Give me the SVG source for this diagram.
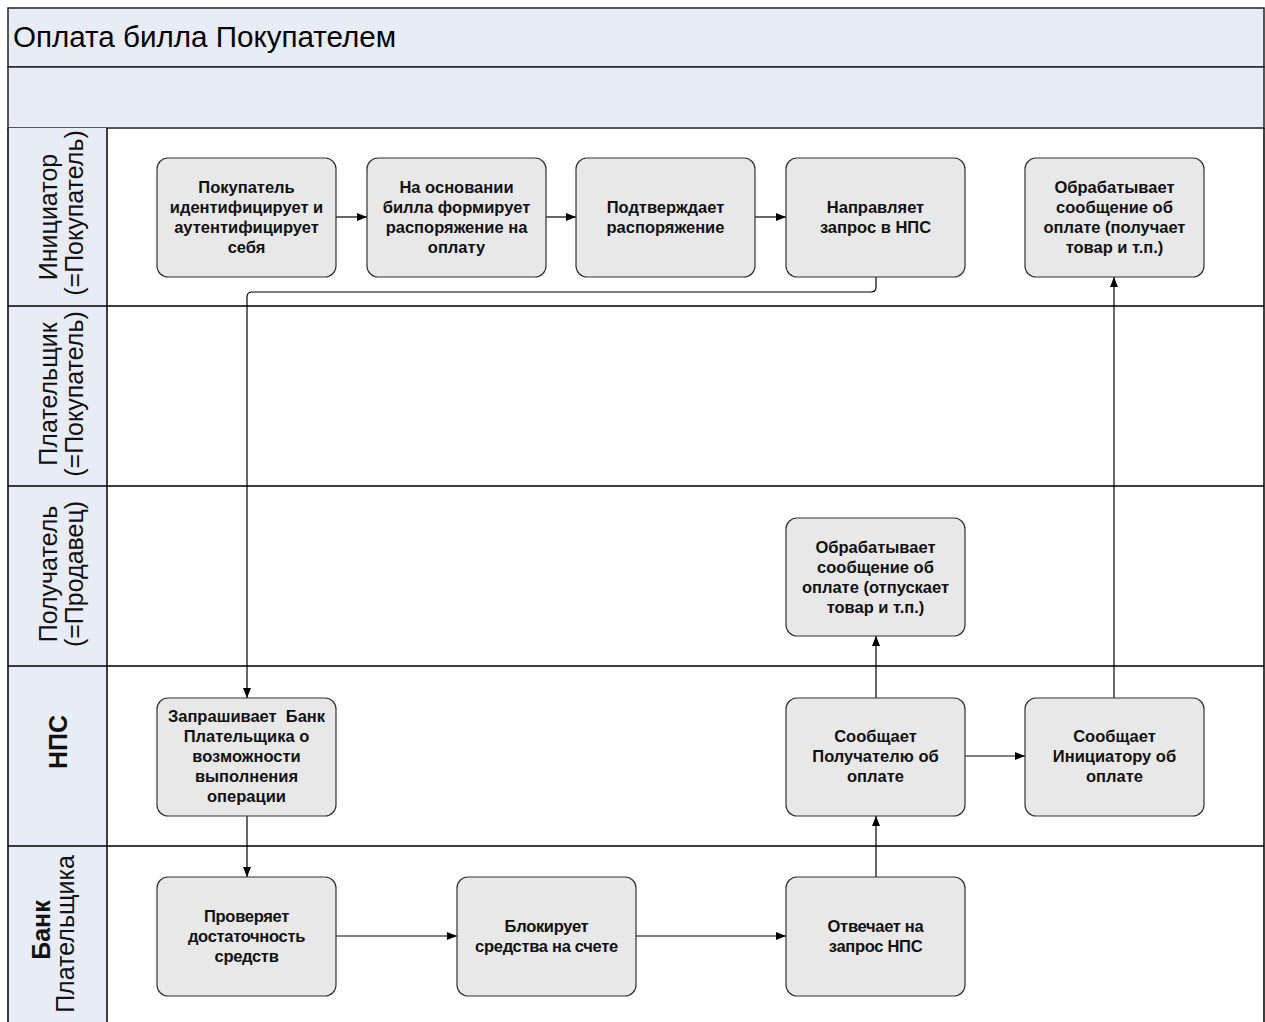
<svg xmlns="http://www.w3.org/2000/svg" width="1265" height="1022" viewBox="0 0 1265 1022">
<defs>
<marker id="ah" viewBox="0 0 10 8" refX="10" refY="4" markerWidth="10" markerHeight="8" markerUnits="userSpaceOnUse" orient="auto">
<path d="M0,0 L10,4 L0,8 Z" fill="#000"/>
</marker>
<style>
.hdr{fill:#e8ecf7;stroke:#222;stroke-width:1.5}
.lane{fill:none;stroke:#000;stroke-width:1.5}
.box{fill:#e8e8e8;stroke:#333;stroke-width:1.2}
.bt{font-family:"Liberation Sans",Arial,sans-serif;font-size:16.5px;font-weight:bold;fill:#111;text-anchor:middle}
.bn{font-family:"Liberation Sans",Arial,sans-serif;font-size:16.5px;font-weight:bold;fill:#111;text-anchor:middle;letter-spacing:-0.3px}
.lt{font-family:"Liberation Sans",Arial,sans-serif;font-size:25px;fill:#111;text-anchor:middle}
.conn{fill:none;stroke:#000;stroke-width:1.2;marker-end:url(#ah)}
</style>
</defs>
<rect width="1265" height="1022" fill="#fff"/>
<g id="pool">
<rect class="hdr" x="8" y="8" width="1256" height="59"/>
<rect class="hdr" x="8" y="67" width="1256" height="61"/>
<text x="13" y="47" font-family="'Liberation Sans',Arial,sans-serif" font-size="29.6" fill="#000">Оплата билла Покупателем</text>
<rect x="8" y="128" width="99" height="900" fill="#e8ecf7" stroke="none"/>
<path class="lane" d="M8,128 V1022 M107,128 V1022 M1264,128 V1022 M8,306 H1264 M8,486 H1264 M8,666 H1264 M8,846 H1264"/>
</g>
<g id="lane-labels">
<g id="lane-initiator"><text class="lt" transform="translate(57,217) rotate(-90)">Инициатор</text><text class="lt" font-size="24" transform="translate(83,213) rotate(-90)">(=Покупатель)</text></g>
<g id="lane-payer"><text class="lt" transform="translate(57,394) rotate(-90)">Плательщик</text><text class="lt" font-size="24" transform="translate(83,394) rotate(-90)">(=Покупатель)</text></g>
<g id="lane-receiver"><text class="lt" transform="translate(57,574) rotate(-90)">Получатель</text><text class="lt" transform="translate(83,574) rotate(-90)">(=Продавец)</text></g>
<g id="lane-nps"><text class="lt" font-weight="bold" transform="translate(67,742) rotate(-90)">НПС</text></g>
<g id="lane-bank"><text class="lt" font-weight="bold" transform="translate(50,930) rotate(-90)">Банк</text><text class="lt" transform="translate(74,934) rotate(-90)">Плательщика</text></g>
</g>
<g id="connectors">
<path class="conn" d="M336,217 H367"/>
<path class="conn" d="M546,217 H576"/>
<path class="conn" d="M755,217 H786"/>
<path class="conn" d="M876,277 V287 Q876,292 871,292 H252 Q247,292 247,297 V698"/>
<path class="conn" d="M247,816 V877"/>
<path class="conn" d="M336,936 H457"/>
<path class="conn" d="M636,936 H786"/>
<path class="conn" d="M876,877 V816"/>
<path class="conn" d="M876,698 V636"/>
<path class="conn" d="M965,756 H1025"/>
<path class="conn" d="M1114,698 V277"/>
</g>
<g id="n1"><rect class="box" x="157" y="158" width="179" height="119" rx="11"/>
<text class="bt"><tspan x="246.5" y="193">Покупатель</tspan><tspan x="246.5" y="213">идентифицирует и</tspan><tspan x="246.5" y="233">аутентифицирует</tspan><tspan x="246.5" y="253">себя</tspan></text></g>
<g id="n2"><rect class="box" x="367" y="158" width="179" height="119" rx="11"/>
<text class="bt"><tspan x="456.5" y="193">На основании</tspan><tspan x="456.5" y="213">билла формирует</tspan><tspan x="456.5" y="233">распоряжение на</tspan><tspan x="456.5" y="253">оплату</tspan></text></g>
<g id="n3"><rect class="box" x="576" y="158" width="179" height="119" rx="11"/>
<text class="bt"><tspan x="665.5" y="213">Подтверждает</tspan><tspan x="665.5" y="233">распоряжение</tspan></text></g>
<g id="n4"><rect class="box" x="786" y="158" width="179" height="119" rx="11"/>
<text class="bt"><tspan x="875.5" y="213">Направляет</tspan><tspan x="875.5" y="233">запрос в НПС</tspan></text></g>
<g id="n5"><rect class="box" x="1025" y="158" width="179" height="119" rx="11"/>
<text class="bt"><tspan x="1114.5" y="193">Обрабатывает</tspan><tspan x="1114.5" y="213">сообщение об</tspan><tspan x="1114.5" y="233">оплате (получает</tspan><tspan x="1114.5" y="253">товар и т.п.)</tspan></text></g>
<g id="n6"><rect class="box" x="786" y="518" width="179" height="118" rx="11"/>
<text class="bt"><tspan x="875.5" y="553">Обрабатывает</tspan><tspan x="875.5" y="573">сообщение об</tspan><tspan x="875.5" y="593">оплате (отпускает</tspan><tspan x="875.5" y="613">товар и т.п.)</tspan></text></g>
<g id="n7"><rect class="box" x="157" y="698" width="179" height="118" rx="11"/>
<text class="bt"><tspan x="246.5" y="722">Запрашивает&#160; Банк</tspan><tspan x="246.5" y="742">Плательщика о</tspan><tspan x="246.5" y="762">возможности</tspan><tspan x="246.5" y="782">выполнения</tspan><tspan x="246.5" y="802">операции</tspan></text></g>
<g id="n8"><rect class="box" x="786" y="698" width="179" height="118" rx="11"/>
<text class="bt"><tspan x="875.5" y="742">Сообщает</tspan><tspan x="875.5" y="762">Получателю об</tspan><tspan x="875.5" y="782">оплате</tspan></text></g>
<g id="n9"><rect class="box" x="1025" y="698" width="179" height="118" rx="11"/>
<text class="bt"><tspan x="1114.5" y="742">Сообщает</tspan><tspan x="1114.5" y="762">Инициатору об</tspan><tspan x="1114.5" y="782">оплате</tspan></text></g>
<g id="n10"><rect class="box" x="157" y="877" width="179" height="119" rx="11"/>
<text class="bn"><tspan x="246.5" y="922">Проверяет</tspan><tspan x="246.5" y="942">достаточность</tspan><tspan x="246.5" y="962">средств</tspan></text></g>
<g id="n11"><rect class="box" x="457" y="877" width="179" height="119" rx="11"/>
<text class="bn"><tspan x="546.5" y="932">Блокирует</tspan><tspan x="546.5" y="952">средства на счете</tspan></text></g>
<g id="n12"><rect class="box" x="786" y="877" width="179" height="119" rx="11"/>
<text class="bn"><tspan x="875.5" y="932">Отвечает на</tspan><tspan x="875.5" y="952">запрос НПС</tspan></text></g>
</svg>
